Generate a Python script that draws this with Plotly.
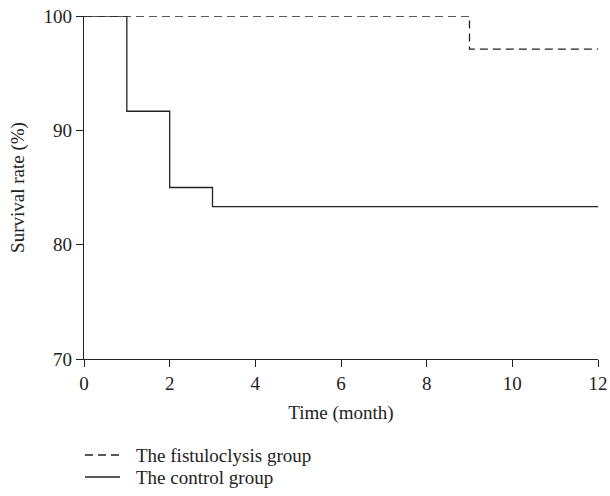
import plotly.graph_objects as go

# Kaplan-Meier step data
fist_time = [0, 9, 12]
fist_surv = [100, 97.1, 97.1]
ctrl_time = [0, 1, 2, 3, 12]
ctrl_surv = [100, 91.67, 85.0, 83.33, 83.33]

series_names = ["The fistuloclysis group", "The control group"]
series_dash = ["8px,5px", "solid"]

x_ticks = [0, 2, 4, 6, 8, 10, 12]
y_ticks = [70, 80, 90, 100]

FONT = "Liberation Serif"
INK = "#222"

fig = go.Figure()
fig.add_trace(go.Scatter(
    x=fist_time, y=fist_surv, mode="lines", line_shape="hv",
    line=dict(color=INK, width=1.3, dash=series_dash[0]),
    name=series_names[0], cliponaxis=False, showlegend=False))
fig.add_trace(go.Scatter(
    x=ctrl_time, y=ctrl_surv, mode="lines", line_shape="hv",
    line=dict(color=INK, width=1.3, dash=series_dash[1]),
    name=series_names[1], cliponaxis=False, showlegend=False))

# legend drawn below the plot (keys + labels), paper coordinates
W, H = 610, 496
L, R, T, B = 84, 12, 16, 137
pw, ph = W - L - R, H - T - B
def px_x(p):
    return (p - L) / pw
def px_y(p):
    return (H - B - p) / ph

legend_rows_px = [455, 477]
for name, dash, ry in zip(series_names, series_dash, legend_rows_px):
    fig.add_shape(type="line", xref="paper", yref="paper",
                  x0=px_x(85), x1=px_x(120), y0=px_y(ry), y1=px_y(ry),
                  line=dict(color=INK, width=1.3, dash=dash))
    fig.add_annotation(xref="paper", yref="paper", x=px_x(134), y=px_y(ry),
                       xanchor="left", yanchor="middle", showarrow=False,
                       text=name, font=dict(family=FONT, size=19, color=INK))

fig.update_layout(
    width=W, height=H,
    margin=dict(l=L, r=R, t=T, b=B, autoexpand=False),
    paper_bgcolor="white", plot_bgcolor="white",
    font=dict(family=FONT, size=19, color=INK),
    showlegend=False,
    xaxis=dict(range=[0, 12], tickvals=x_ticks, showgrid=False, zeroline=False,
               showline=True, linecolor=INK, linewidth=1.3,
               ticks="outside", ticklen=7, tickcolor=INK, tickwidth=1.3,
               title=dict(text="Time (month)", font=dict(family=FONT, size=19), standoff=12)),
    yaxis=dict(range=[70, 100], tickvals=y_ticks, showgrid=False, zeroline=False,
               showline=True, linecolor=INK, linewidth=1.3,
               ticks="outside", ticklen=7, tickcolor=INK, tickwidth=1.3,
               title=dict(text="Survival rate (%)", font=dict(family=FONT, size=19), standoff=13)),
)

fig.write_html("out.html", config={"displayModeBar": False},
               post_script="document.body.style.margin='0';document.body.style.padding='0';")
